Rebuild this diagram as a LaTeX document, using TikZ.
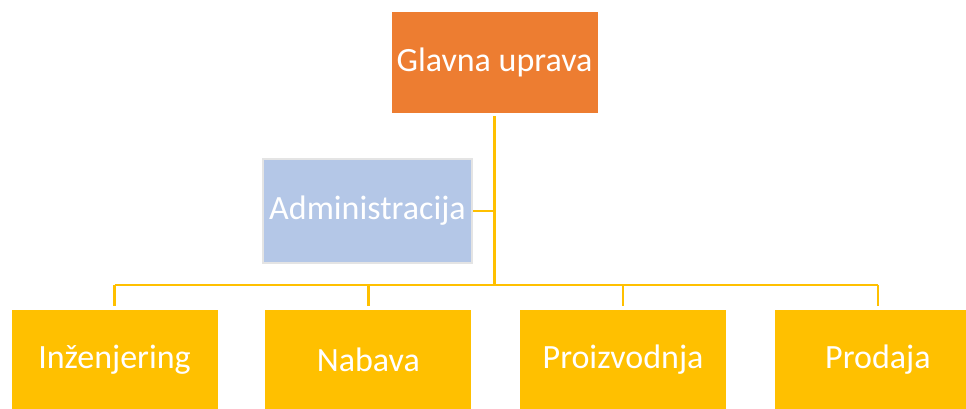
\documentclass[tikz,border=0pt]{standalone}
\usepackage{fontspec}
\setmainfont{Carlito}
\usepackage{tikz}
\usetikzlibrary{positioning}
\definecolor{uprava}{HTML}{ED7D31}
\definecolor{admin}{HTML}{B4C7E7}
\definecolor{odjel}{HTML}{FFC000}
\definecolor{rub}{HTML}{E4E4E4}
\begin{document}
\begin{tikzpicture}[x=1pt,y=-1pt,
  box/.style={rectangle,minimum width=207pt,minimum height=102pt,inner sep=0pt,
    text=white,font=\fontsize{34}{40}\selectfont,draw=white,line width=0.8pt},
  link/.style={draw=odjel,line width=2.6pt}]
\useasboundingbox (0,0) rectangle (966,408);
\clip (0,0) rectangle (966,408);
\node[box,fill=uprava] (glavna) at (494.5,62) {Glavna uprava};
\node[box,fill=admin,draw=rub,line width=2pt,minimum width=209pt,minimum height=104pt] (admin) at (367.5,211) {Administracija};
\node[box,fill=odjel] (inz) at (114.5,360) {Inženjering};
\node[box,fill=odjel,node distance=46pt,right=of inz] (nab) {Nabava};
\node[box,fill=odjel,node distance=47pt,right=of nab] (proiz) {Proizvodnja};
\node[box,fill=odjel,node distance=47pt,right=of proiz] (prod) {Prodaja};
\coordinate (bus) at (494.5,285);
\draw[link] ([yshift=-3pt]glavna.south) -- (bus);
\draw[link] (admin.east) -- (admin.east -| glavna.south);
\draw[link] (bus -| inz.north) -- (bus -| prod.north);
\foreach \d in {inz,nab,proiz,prod}
  \draw[link] (bus -| \d.north) -- ([yshift=3pt]\d.north);
\end{tikzpicture}
\end{document}
